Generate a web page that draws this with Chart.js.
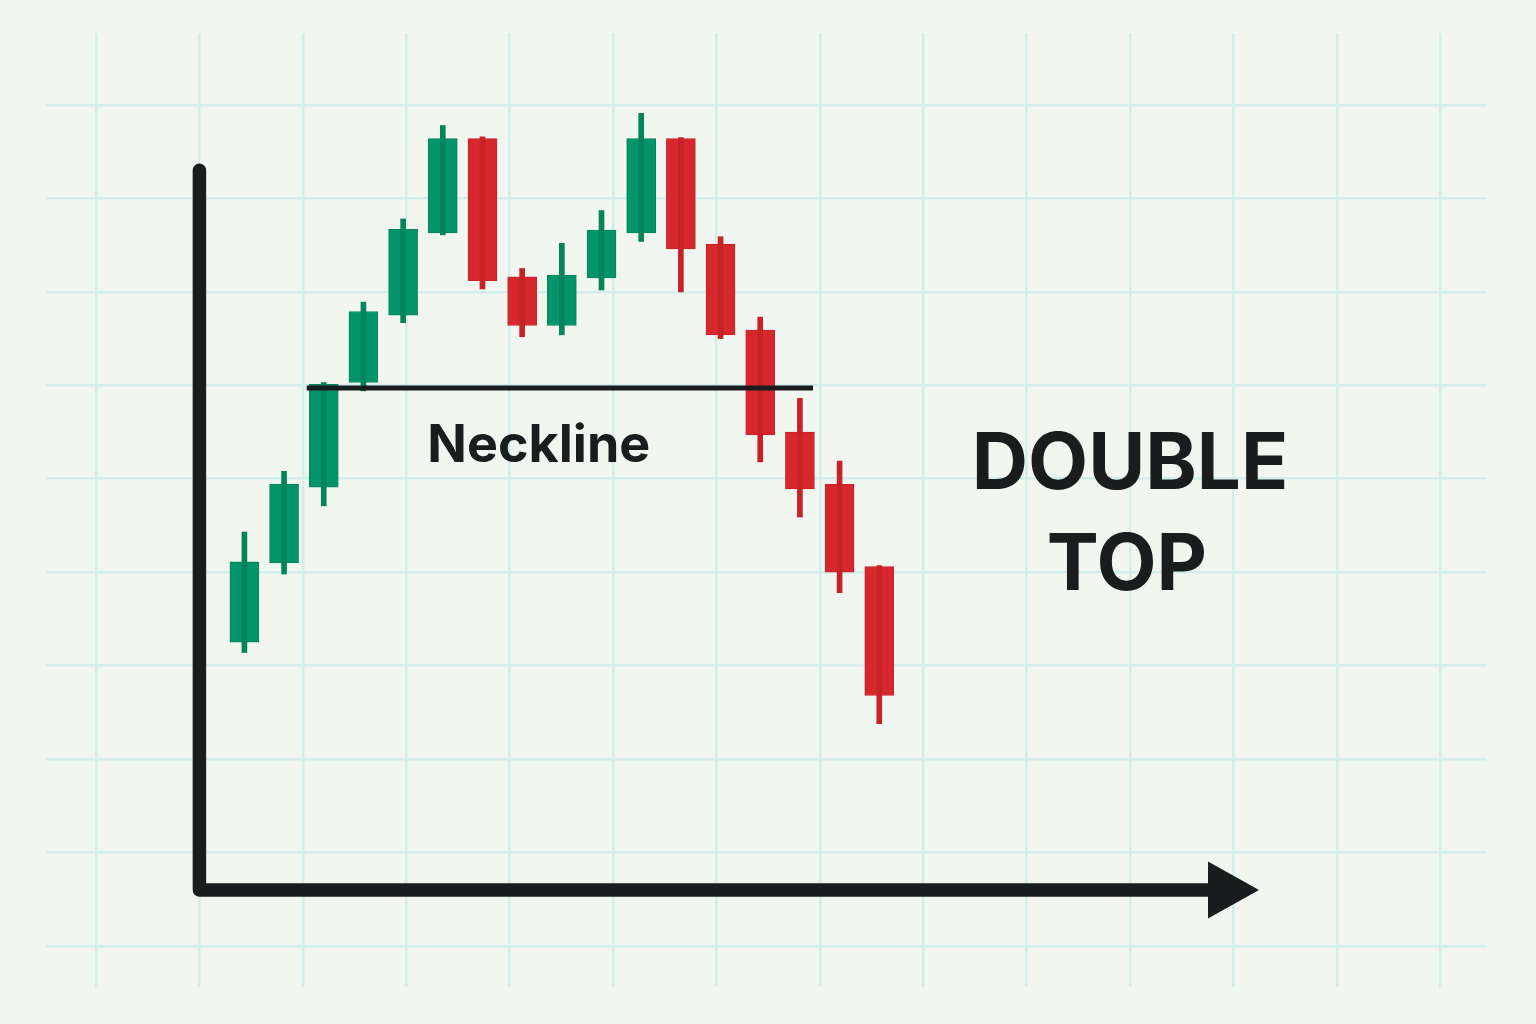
<!DOCTYPE html>
<html>
<head>
<meta charset="utf-8">
<title>Double Top</title>
<script src="https://cdn.jsdelivr.net/npm/chart.js@4.4.1/dist/chart.umd.min.js"></script>
<style>
  html, body { margin: 0; padding: 0; background: #f1f7f0; }
  canvas { display: block; }
</style>
</head>
<body>
<canvas id="chart" width="1536" height="1024" style="width:1536px;height:1024px"></canvas>
<script>
// candle sessions and OHLC prices
const sessions = [0, 1, 2, 3, 4, 5, 6, 7, 8, 9, 10, 11, 12, 13, 14, 15, 16];
const opens  = [42.5, 51.0, 59.1, 70.3, 77.5, 86.3, 96.4, 81.6, 76.4, 81.5, 86.3, 96.4, 85.1, 75.9, 65.0, 59.4, 50.6];
const highs  = [54.3, 60.8, 70.3, 78.9, 87.8, 97.8, 96.6, 82.5, 85.2, 88.7, 99.1, 96.5, 85.9, 77.3, 68.6, 61.9, 50.7];
const lows   = [41.4, 49.8, 57.1, 69.4, 76.7, 86.1, 80.3, 75.2, 75.4, 80.2, 85.4, 80.0, 75.0, 61.8, 55.9, 47.8, 33.8];
const closes = [51.1, 59.4, 70.1, 77.9, 86.7, 96.4, 81.2, 76.4, 81.8, 86.6, 96.4, 84.6, 75.4, 64.7, 58.9, 50.0, 36.8];

// neckline: price level and the sessions it spans
const necklineLevel = [69.7];
const necklineSpan = [1.57, 14.33];

const labels = ['Neckline', 'DOUBLE', 'TOP'];

const GREEN = '#03946a';
const GREEN_DARK = '#05845c';
const RED = '#d6282c';
const RED_DARK = '#c62328';
const INK = '#1a1d1e';
const GRID = '#d3eeea';

const isUp = sessions.map(i => closes[i] >= opens[i]);

const bodies = sessions.map(i => ({ x: i, y: [opens[i], closes[i]] }));
const wicks = sessions.map(i => ({ x: i, y: [lows[i], highs[i]] }));
const neckline = necklineSpan.map(s => ({ x: s, y: necklineLevel[0] }));

const decor = {
  id: 'decor',
  beforeDraw(chart) {
    const { ctx, width, height } = chart;
    ctx.save();
    ctx.fillStyle = '#f1f7f0';
    ctx.fillRect(0, 0, width, height);
    ctx.restore();
  },
  afterDatasetsDraw(chart, args, o) {
    const { ctx } = chart;
    const { x, xc, y } = chart.scales;
    const ox = x.getPixelForValue(o.axisX);
    const oy = y.getPixelForValue(o.axisY);
    const top = y.getPixelForValue(o.axisTop);
    const tip = xc.getPixelForValue(o.arrowTip);

    ctx.save();
    // axes
    ctx.strokeStyle = INK;
    ctx.fillStyle = INK;
    ctx.lineWidth = 13.5;
    ctx.lineCap = 'round';
    ctx.lineJoin = 'round';
    ctx.beginPath();
    ctx.moveTo(ox, top);
    ctx.lineTo(ox, oy);
    ctx.lineTo(tip - 45, oy);
    ctx.stroke();
    ctx.beginPath();
    ctx.moveTo(tip - 51, oy - 28.5);
    ctx.lineTo(tip, oy);
    ctx.lineTo(tip - 51, oy + 28.5);
    ctx.closePath();
    ctx.fill();

    // labels
    ctx.textAlign = 'center';
    ctx.textBaseline = 'alphabetic';
    ctx.font = '700 52px Inter, "Open Sans", sans-serif';
    ctx.fillText(labels[0], xc.getPixelForValue(7.42), y.getPixelForValue(61.8));
    ctx.font = '700 78px Inter, "Open Sans", sans-serif';
    ctx.fillText(labels[1], x.getPixelForValue(10), y.getPixelForValue(58.9));
    ctx.fillText(labels[2], x.getPixelForValue(9.97), y.getPixelForValue(48.1));
    ctx.restore();
  }
};

function draw() {
  new Chart(document.getElementById('chart'), {
    type: 'bar',
    data: {
      datasets: [
        {
          type: 'line',
          label: 'Neckline',
          data: neckline,
          xAxisID: 'xc',
          yAxisID: 'y',
          borderColor: INK,
          borderWidth: 5,
          pointRadius: 0,
          borderCapStyle: 'butt',
          order: 0
        },
        {
          label: 'Wick',
          data: wicks,
          xAxisID: 'xc',
          yAxisID: 'y',
          backgroundColor: sessions.map(i => isUp[i] ? GREEN_DARK : RED_DARK),
          barThickness: 5,
          grouped: false,
          order: 1
        },
        {
          label: 'Body',
          data: bodies,
          xAxisID: 'xc',
          yAxisID: 'y',
          backgroundColor: sessions.map(i => isUp[i] ? GREEN : RED),
          borderColor: sessions.map(i => isUp[i] ? GREEN_DARK : RED_DARK),
          borderWidth: 1,
          borderSkipped: false,
          barThickness: 29,
          grouped: false,
          order: 2
        }
      ]
    },
    options: {
      responsive: false,
      animation: false,
      devicePixelRatio: 1,
      layout: { padding: { left: 46, right: 49, top: 33, bottom: 37 } },
      plugins: {
        legend: { display: false },
        tooltip: { enabled: false },
        decor: { axisX: 1, axisY: 16.0, axisTop: 93.0, arrowTip: 25.57 }
      },
      scales: {
        x: {
          type: 'linear',
          position: 'bottom',
          min: -0.4836,
          max: 13.452,
          offset: false,
          border: { display: false },
          grid: { color: GRID, lineWidth: 2.5, drawTicks: false, offset: false },
          ticks: { display: false, stepSize: 1, includeBounds: false }
        },
        xc: {
          type: 'linear',
          display: false,
          min: -5.0,
          max: 31.316,
          offset: false,
          grid: { offset: false }
        },
        y: {
          type: 'linear',
          min: 5.61,
          max: 107.7,
          beginAtZero: false,
          border: { display: false },
          grid: { color: GRID, lineWidth: 2.5, drawTicks: false },
          ticks: { display: false, stepSize: 10, includeBounds: false }
        }
      }
    },
    plugins: [decor]
  });
}

if (document.fonts && document.fonts.load) {
  document.fonts.load('700 52px Inter').then(draw, draw);
} else {
  draw();
}
</script>
</body>
</html>
